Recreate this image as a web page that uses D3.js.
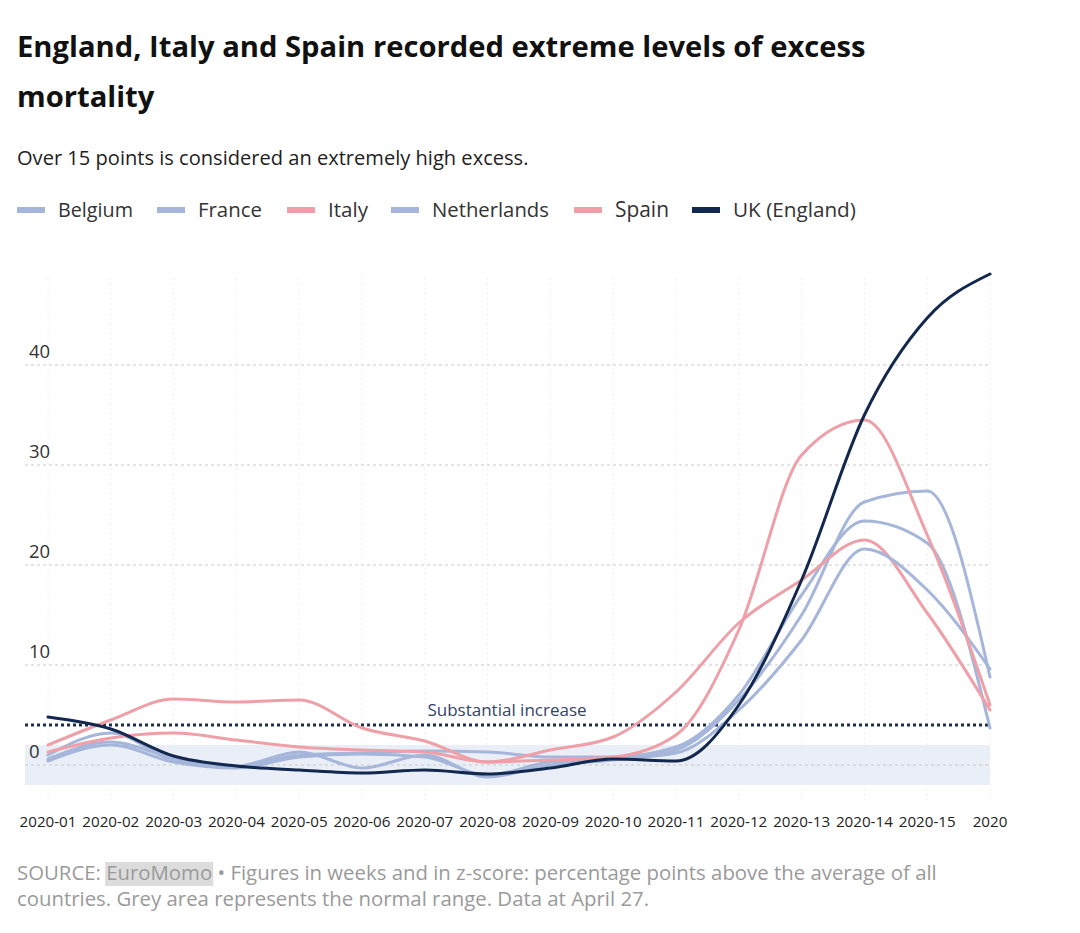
<!DOCTYPE html>
<html><head><meta charset="utf-8">
<script src="https://cdn.jsdelivr.net/npm/d3@7"></script>
<style>
body{margin:0;background:#fff;}
svg{display:block;font-family:"Open Sans",sans-serif;}
</style></head>
<body><svg id="c" width="1080" height="933"></svg>
<script>
const weeks = ["2020-01","2020-02","2020-03","2020-04","2020-05","2020-06","2020-07","2020-08","2020-09","2020-10","2020-11","2020-12","2020-13","2020-14","2020-15","2020-16"];
const tickLabels = ["2020-01","2020-02","2020-03","2020-04","2020-05","2020-06","2020-07","2020-08","2020-09","2020-10","2020-11","2020-12","2020-13","2020-14","2020-15","2020"];
const belgium     = [0.6, 2.3, 0.7, -0.1, 1.3, -0.3, 1.0, -1.2, 0.0, 0.5, 1.5, 6.5, 15.0, 26.3, 27.4, 8.8];
const france      = [1.0, 3.2, 0.5, -0.2, 1.0, 1.2, 1.4, 1.3, 0.8, 0.8, 1.8, 7.0, 17.0, 24.4, 22.2, 3.7];
const italy       = [2.0, 4.5, 6.6, 6.3, 6.5, 3.7, 2.4, 0.3, 1.5, 2.8, 7.3, 14.2, 18.5, 22.5, 15.2, 5.5];
const netherlands = [0.4, 2.0, 0.3, -0.3, 0.8, 1.1, 0.8, -1.0, 0.3, 0.6, 1.2, 5.5, 12.5, 21.6, 17.5, 9.6];
const spain       = [1.3, 2.7, 3.2, 2.5, 1.8, 1.5, 1.3, 0.3, 0.5, 0.8, 3.0, 13.5, 31.0, 34.5, 23.0, 6.0];
const uk          = [4.8, 3.6, 0.9, -0.1, -0.5, -0.8, -0.5, -0.9, -0.3, 0.6, 0.4, 6.0, 18.5, 35.0, 44.7, 49.1];
const seriesNames = ["Belgium","France","Italy","Netherlands","Spain","UK (England)"];
const seriesValues = [belgium, france, italy, netherlands, spain, uk];
const seriesColors = ["#a5b6da","#a5b6da","#ef9fa7","#a5b6da","#ef9fa7","#13284f"];
const yTicks = [0,10,20,30,40];
const normalRange = [-2, 2];
const threshold = 4;

const svg = d3.select("#c");
const x = d3.scalePoint().domain(weeks).range([48, 990]);
const y = d3.scaleLinear().domain([0, 40]).range([765, 365]);
const left = 25, right = 990;

function fitText(sel, width){
  const n = sel.node();
  const w = n.getComputedTextLength();
  const fs = parseFloat(sel.attr("font-size"));
  sel.attr("font-size", fs * width / w);
}

// Title
const t1 = svg.append("text").attr("x",17).attr("y",57).attr("font-size",28).attr("font-weight",700).attr("fill","#111")
  .text("England, Italy and Spain recorded extreme levels of excess");
fitText(t1, 849);
svg.append("text").attr("x",17).attr("y",107).attr("font-size",t1.attr("font-size")).attr("font-weight",700).attr("fill","#111").text("mortality");
const st = svg.append("text").attr("x",17).attr("y",165).attr("font-size",18).attr("fill","#222")
  .text("Over 15 points is considered an extremely high excess.");
fitText(st, 512);

// Legend
const legX = [17,157,287,391,574,692];
const legW = [75,64,40,117,54,123];
seriesNames.forEach((nm,i)=>{
  svg.append("rect").attr("x",legX[i]).attr("y",207).attr("width",28).attr("height",6).attr("fill",seriesColors[i]);
  const t = svg.append("text").attr("x",legX[i]+41).attr("y",217).attr("font-size",19).attr("fill","#333").text(nm);
  fitText(t, legW[i]);
});

// vertical faint gridlines
svg.append("g").selectAll("line").data(weeks).join("line")
  .attr("x1",d=>x(d)).attr("x2",d=>x(d)).attr("y1",278).attr("y2",800)
  .attr("stroke","#f0f0f0").attr("stroke-dasharray","2,3");

// normal range band
svg.append("rect").attr("x",left).attr("width",right-left)
  .attr("y",y(normalRange[1])).attr("height",y(normalRange[0])-y(normalRange[1]))
  .attr("fill","#eaeef6");

// horizontal gridlines
svg.append("g").selectAll("line").data(yTicks).join("line")
  .attr("x1",left).attr("x2",right).attr("y1",d=>y(d)).attr("y2",d=>y(d))
  .attr("stroke","#c8c8c8").attr("stroke-dasharray","3,3");
svg.append("g").selectAll("text").data(yTicks).join("text")
  .attr("x",29).attr("y",d=>y(d)-7).attr("font-size",18.5).attr("fill","#333").text(d=>d);

// threshold
svg.append("line").attr("x1",left).attr("x2",right).attr("y1",y(threshold)).attr("y2",y(threshold))
  .attr("stroke","#1d2d4f").attr("stroke-width",3).attr("stroke-dasharray","3,3");
svg.append("text").attr("x",507).attr("y",y(threshold)-9).attr("text-anchor","middle")
  .attr("font-size",17).attr("fill","#33446a").text("Substantial increase");

// lines
const line = d3.line().x((d,i)=>x(weeks[i])).y(d=>y(d)).curve(d3.curveMonotoneX);
seriesValues.forEach((vals,i)=>{
  svg.append("path").datum(vals).attr("d",line).attr("fill","none")
    .attr("stroke",seriesColors[i]).attr("stroke-width",3).attr("stroke-linejoin","round").attr("stroke-linecap","round");
});

// x axis labels
const xl = svg.append("g").selectAll("text").data(weeks).join("text")
  .attr("x",d=>x(d)).attr("y",827).attr("text-anchor","middle").attr("font-size",15).attr("fill","#222")
  .text((d,i)=>tickLabels[i]);
const w0 = xl.node().getComputedTextLength();
xl.attr("font-size", 15*57/w0);

// source
const s1 = svg.append("text").attr("x",17).attr("y",880).attr("font-size",18).attr("fill","#9a9a9a");
s1.append("tspan").text("SOURCE: ");
s1.append("tspan").text("EuroMomo");
s1.append("tspan").text(" \u2022 Figures in weeks and in z-score: percentage points above the average of all");
fitText(s1, 920);
svg.append("text").attr("x",17).attr("y",906).attr("font-size",s1.attr("font-size")).attr("fill","#9a9a9a")
  .text("countries. Grey area represents the normal range. Data at April 27.");
const n = s1.node();
const start = n.getStartPositionOfChar(8), end = n.getEndPositionOfChar(15);
svg.insert("rect","text").attr("x",start.x-1).attr("y",862).attr("width",end.x-start.x+2).attr("height",24).attr("fill","#dcdcdc");
</script></body></html>
